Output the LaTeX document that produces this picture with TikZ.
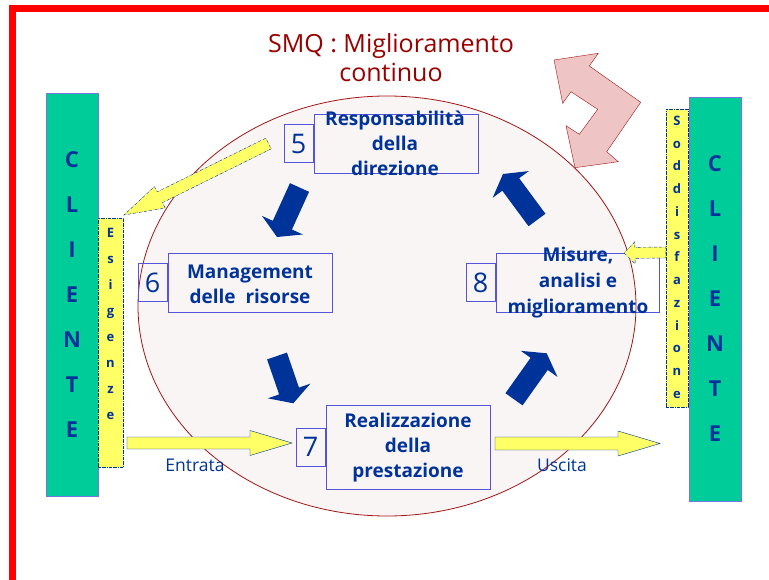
\documentclass[tikz,border=0pt]{standalone}
\usepackage{fontspec}
\setmainfont{Open Sans}
\usepackage{tikz}
\usetikzlibrary{positioning}
\usetikzlibrary{calc}

\definecolor{clgreen}{RGB}{0,204,153}
\definecolor{clblue}{RGB}{0,51,153}
\definecolor{boxblue}{RGB}{85,85,220}
\definecolor{stripyellow}{RGB}{255,255,102}
\definecolor{ellfill}{RGB}{250,245,245}
\definecolor{ellred}{RGB}{163,21,21}
\definecolor{pinkfill}{RGB}{239,196,196}
\definecolor{titlered}{RGB}{153,0,0}

% block arrow: style, tail, tip, shaft half width, head half width, head length
\newcommand{\blockarrow}[6]{%
  \coordinate (ba) at ($(#3)!#6!(#2)$);
  \draw[#1] ($(#2)!#4!90:(#3)$) -- ($(ba)!#4!90:(#3)$) -- ($(ba)!#5!90:(#3)$)
    -- (#3) -- ($(ba)!#5!-90:(#3)$) -- ($(ba)!#4!-90:(#3)$) -- ($(#2)!#4!-90:(#3)$) -- cycle;
}

\begin{document}
\begin{tikzpicture}[x=1pt,y=-1pt,
      cliente/.style={draw=boxblue!80,fill=clgreen,minimum width=52pt,inner sep=0pt,
        text=clblue,align=center,font=\fontsize{22}{45}\selectfont\bfseries},
      strip/.style={draw=clblue,densely dash dot,fill=stripyellow,inner sep=0pt},
      stripletters/.style={inner sep=0pt,text=clblue,align=center},
      mainbox/.style={draw=boxblue,thick,minimum width=164pt,minimum height=59pt,inner sep=0pt},
      numbox/.style={draw=boxblue,thick,minimum width=29pt,minimum height=38pt,inner sep=0pt,
        text=clblue,font=\fontsize{27}{30}\selectfont},
      boxtext/.style={text=clblue,align=center,inner sep=0pt,font=\fontsize{19}{25}\selectfont\bfseries},
      flowlabel/.style={text=clblue,font=\fontsize{17.5}{20}\selectfont},
      bluearrow/.style={fill=clblue,draw=none},
      yelarrow/.style={fill=stripyellow,draw=clblue,thin},
      dotarrow/.style={fill=stripyellow,draw=clblue,densely dash dot,thin}
      ]
      \useasboundingbox (0,0) rectangle (769,580);

      % frame
      \draw[red,line width=7pt] (12,580) -- (12,9) -- (769,9);

      % title
      \node[text=titlered,align=center,font=\fontsize{25}{29}\selectfont] (title) at (391,58)
        {SMQ : Miglioramento\\continuo};

      % circle of the process
      \draw[draw=ellred,fill=ellfill,thick] (387,306) ellipse [x radius=249pt,y radius=210pt];

      % improvement arrow
      \draw[fill=pinkfill,draw=ellred] (554,60) -- (598.3,53.3) -- (589.3,66) -- (640.7,102.3)
        -- (606.7,151.7) -- (618.3,161.7) -- (575,167.7) -- (566,125.7) -- (579.3,134.3)
        -- (597.7,109.3) -- (571,91.7) -- (562.7,103.3) -- cycle;

      % customers
      \node[cliente,minimum height=403pt] (clleft) at (72,294.5) {C\\L\\I\\E\\N\\T\\E};
      \node[cliente,minimum height=404pt] (clright) at (715,299) {C\\L\\I\\E\\N\\T\\E};

      \node[strip,minimum width=25pt,minimum height=249pt] (esig) at (110.5,342.5) {};
      \node[stripletters,below=10pt of esig.north,font=\fontsize{13}{26}\selectfont\bfseries] (esigtext)
        {E\\s\\i\\g\\e\\n\\z\\e};
      \node[strip,minimum width=22pt,minimum height=298pt] (sodd) at (677,258) {};
      \node[stripletters,below=7pt of sodd.north,font=\fontsize{13}{22.75}\selectfont\bfseries] (soddtext)
        {S\\o\\d\\d\\i\\s\\f\\a\\z\\i\\o\\n\\e};

      % process steps
      \node[mainbox] (b5) at (396,143.5) {};
      \node[numbox,left=0pt of b5] (n5) {5};
      \node[boxtext] (t5) at (395,143.5) {Responsabilità\\della\\direzione};

      \node[mainbox] (b6) at (250,282.5) {};
      \node[numbox,left=0pt of b6] (n6) {6};
      \node[boxtext] (t6) at (250,284.5) {Management\\delle\ \ risorse};

      \node[mainbox,minimum height=84pt] (b7) at (408,447) {};
      \node[numbox,left=0pt of b7] (n7) {7};
      \node[boxtext] (t7) at (408,448) {Realizzazione\\della\\prestazione};

      \node[mainbox,minimum width=163pt] (b8) at (577.5,282.5) {};
      \node[numbox,left=0pt of b8] (n8) {8};
      \node[boxtext,font=\fontsize{19}{26}\selectfont\bfseries] (t8) at (578,283)
        {Misure,\\analisi e\\miglioramento};

      % cycle arrows
      \coordinate (c5a) at (299.5,187.5);  \coordinate (c5b) at (277,237);
      \coordinate (c6a) at (277,356);      \coordinate (c6b) at (293.3,403.3);
      \coordinate (c7a) at (514,399.3);    \coordinate (c7b) at (546.7,353.3);
      \coordinate (c8a) at (537,220);      \coordinate (c8b) at (503,174);
      \blockarrow{bluearrow}{c5a}{c5b}{10.5pt}{22.5pt}{13pt}
      \blockarrow{bluearrow}{c6a}{c6b}{10.5pt}{22.5pt}{13pt}
      \blockarrow{bluearrow}{c7a}{c7b}{10.5pt}{22.5pt}{13pt}
      \blockarrow{bluearrow}{c8a}{c8b}{10.5pt}{22.5pt}{13pt}

      % input and output
      \coordinate (in0) at (127,443);   \coordinate (in1) at (292,443);
      \coordinate (out0) at (495,443.5); \coordinate (out1) at (660,443.5);
      \blockarrow{yelarrow}{in0}{in1}{6pt}{12.5pt}{42pt}
      \blockarrow{yelarrow}{out0}{out1}{6.5pt}{12.5pt}{42pt}
      \node[flowlabel] (entrata) at (195,465) {Entrata};
      \node[flowlabel] (uscita) at (562,465) {Uscita};

      % needs and satisfaction
      \coordinate (need0) at (268.5,143.5); \coordinate (need1) at (124,215);
      \blockarrow{dotarrow}{need0}{need1}{6pt}{12pt}{40pt}
      \coordinate (sat0) at (sodd.west |- 0,252.5); \coordinate (sat1) at (624,253);
      \blockarrow{dotarrow}{sat0}{sat1}{5.5pt}{11pt}{11pt}
    \end{tikzpicture}
\end{document}
